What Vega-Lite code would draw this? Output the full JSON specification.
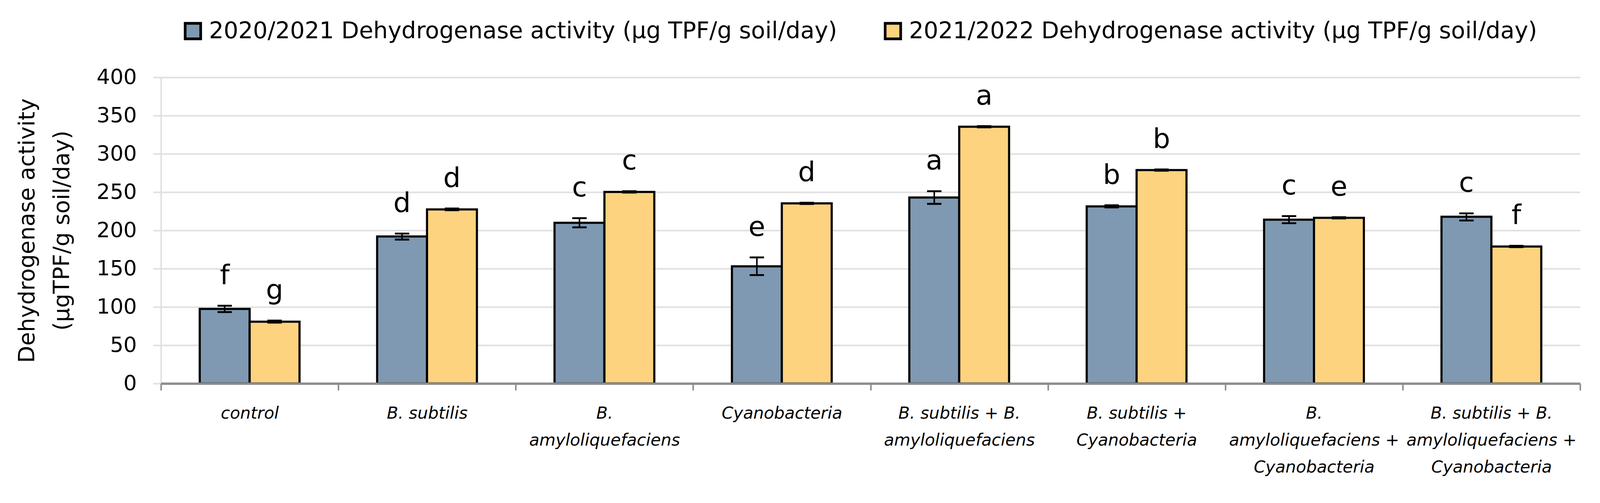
{
  "$schema": "https://vega.github.io/schema/vega-lite/v6.json",
  "width": 3633,
  "height": 784,
  "autosize": {"type": "none"},
  "padding": {"left": 412, "top": 198, "right": 188, "bottom": 306},
  "background": "white",
  "data": {
    "values": [
      {"treatment": "control", "series": "2020/2021 Dehydrogenase activity (µg TPF/g soil/day)", "value": 97.4, "lower": 93.3, "upper": 101.6, "letter": "f"},
      {"treatment": "control", "series": "2021/2022 Dehydrogenase activity (µg TPF/g soil/day)", "value": 80.8, "lower": 79.5, "upper": 82.2, "letter": "g"},
      {"treatment": "B. subtilis", "series": "2020/2021 Dehydrogenase activity (µg TPF/g soil/day)", "value": 192.1, "lower": 188.0, "upper": 195.9, "letter": "d"},
      {"treatment": "B. subtilis", "series": "2021/2022 Dehydrogenase activity (µg TPF/g soil/day)", "value": 227.4, "lower": 226.3, "upper": 228.6, "letter": "d"},
      {"treatment": "B. amyloliquefaciens", "series": "2020/2021 Dehydrogenase activity (µg TPF/g soil/day)", "value": 210.0, "lower": 204.0, "upper": 216.0, "letter": "c"},
      {"treatment": "B. amyloliquefaciens", "series": "2021/2022 Dehydrogenase activity (µg TPF/g soil/day)", "value": 250.3, "lower": 249.5, "upper": 251.2, "letter": "c"},
      {"treatment": "Cyanobacteria", "series": "2020/2021 Dehydrogenase activity (µg TPF/g soil/day)", "value": 153.0, "lower": 141.6, "upper": 164.7, "letter": "e"},
      {"treatment": "Cyanobacteria", "series": "2021/2022 Dehydrogenase activity (µg TPF/g soil/day)", "value": 235.3, "lower": 234.5, "upper": 236.2, "letter": "d"},
      {"treatment": "B. subtilis + B. amyloliquefaciens", "series": "2020/2021 Dehydrogenase activity (µg TPF/g soil/day)", "value": 243.0, "lower": 234.7, "upper": 251.2, "letter": "a"},
      {"treatment": "B. subtilis + B. amyloliquefaciens", "series": "2021/2022 Dehydrogenase activity (µg TPF/g soil/day)", "value": 335.4, "lower": 334.6, "upper": 336.3, "letter": "a"},
      {"treatment": "B. subtilis + Cyanobacteria", "series": "2020/2021 Dehydrogenase activity (µg TPF/g soil/day)", "value": 231.4, "lower": 230.0, "upper": 232.8, "letter": "b"},
      {"treatment": "B. subtilis + Cyanobacteria", "series": "2021/2022 Dehydrogenase activity (µg TPF/g soil/day)", "value": 278.8, "lower": 278.0, "upper": 279.7, "letter": "b"},
      {"treatment": "B. amyloliquefaciens + Cyanobacteria", "series": "2020/2021 Dehydrogenase activity (µg TPF/g soil/day)", "value": 214.0, "lower": 209.4, "upper": 218.7, "letter": "c"},
      {"treatment": "B. amyloliquefaciens + Cyanobacteria", "series": "2021/2022 Dehydrogenase activity (µg TPF/g soil/day)", "value": 216.4, "lower": 215.6, "upper": 217.3, "letter": "e"},
      {"treatment": "B. subtilis + B. amyloliquefaciens + Cyanobacteria", "series": "2020/2021 Dehydrogenase activity (µg TPF/g soil/day)", "value": 217.9, "lower": 212.9, "upper": 222.3, "letter": "c"},
      {"treatment": "B. subtilis + B. amyloliquefaciens + Cyanobacteria", "series": "2021/2022 Dehydrogenase activity (µg TPF/g soil/day)", "value": 179.0, "lower": 178.2, "upper": 179.9, "letter": "f"}
    ]
  },
  "encoding": {
    "x": {
      "field": "treatment",
      "type": "nominal",
      "sort": null,
      "scale": {"paddingInner": 0, "paddingOuter": 0},
      "axis": {
        "title": null,
        "zindex": 1,
        "labelAngle": 0,
        "labelFont": "DejaVu Sans",
        "labelFontStyle": "italic",
        "labelFontSize": 42.6,
        "labelLineHeight": 69,
        "labelColor": "#000000",
        "labelPadding": 38.5,
        "labelLimit": 2000,
        "labelOverlap": false,
        "labelExpr": "datum.label == 'B. amyloliquefaciens' ? ['B.', 'amyloliquefaciens'] : datum.label == 'B. subtilis + B. amyloliquefaciens' ? ['B. subtilis + B.', 'amyloliquefaciens'] : datum.label == 'B. subtilis + Cyanobacteria' ? ['B. subtilis +', 'Cyanobacteria'] : datum.label == 'B. amyloliquefaciens + Cyanobacteria' ? ['B.', 'amyloliquefaciens +', 'Cyanobacteria'] : datum.label == 'B. subtilis + B. amyloliquefaciens + Cyanobacteria' ? ['B. subtilis  + B.', 'amyloliquefaciens +', 'Cyanobacteria'] : datum.label",
        "tickBand": "extent",
        "tickSize": 17.4,
        "tickWidth": 3.9,
        "tickColor": "#8C8C8C",
        "domainColor": "#8C8C8C",
        "domainWidth": 5.8,
        "grid": false
      }
    },
    "xOffset": {
      "field": "series",
      "type": "nominal",
      "scale": {"paddingInner": 0, "paddingOuter": 0.778}
    }
  },
  "layer": [
    {
      "mark": {"type": "bar", "stroke": "#000000", "strokeWidth": 5.5},
      "encoding": {
        "y": {
          "field": "value",
          "type": "quantitative",
          "scale": {"domain": [0, 400], "nice": false},
          "axis": {
            "title": ["Dehydrogenase activity", "(µgTPF/g soil/day)"],
            "titleFont": "DejaVu Sans",
            "titleFontSize": 57,
            "titleFontWeight": "normal",
            "titleLineHeight": 89,
            "titleColor": "#000000",
            "titlePadding": 58,
            "values": [0, 50, 100, 150, 200, 250, 300, 350, 400],
            "labelFont": "DejaVu Sans",
            "labelFontSize": 54,
            "labelColor": "#000000",
            "labelPadding": 41.7,
            "tickSize": 20.4,
            "tickWidth": 3.9,
            "tickColor": "#E0E0E0",
            "domainColor": "#E0E0E0",
            "domainWidth": 3.9,
            "grid": true,
            "gridColor": "#E0E0E0",
            "gridWidth": 3.9,
            "zindex": 0
          }
        },
        "color": {
          "field": "series",
          "type": "nominal",
          "scale": {
            "domain": ["2020/2021 Dehydrogenase activity (µg TPF/g soil/day)", "2021/2022 Dehydrogenase activity (µg TPF/g soil/day)"],
            "range": ["#7F99B3", "#FED37F"]
          },
          "legend": {
            "title": null,
            "orient": "none",
            "direction": "horizontal",
            "legendX": 52.4,
            "legendY": -147.9,
            "padding": 0,
            "labelFont": "DejaVu Sans",
            "labelFontSize": 59,
            "labelColor": "#000000",
            "labelLimit": 4000,
            "labelOffset": 11.5,
            "columnPadding": 109,
            "symbolType": "square",
            "symbolSize": 1580,
            "symbolStrokeWidth": 6.8,
            "symbolStrokeColor": "#000000",
            "symbolOpacity": 1
          }
        }
      }
    },
    {
      "mark": {"type": "rule", "color": "#000000", "strokeWidth": 3.9},
      "encoding": {
        "y": {"field": "lower", "type": "quantitative"},
        "y2": {"field": "upper"}
      }
    },
    {
      "mark": {"type": "tick", "orient": "horizontal", "size": 36.8, "thickness": 4.8, "color": "#000000", "opacity": 1},
      "encoding": {
        "y": {"field": "lower", "type": "quantitative"}
      }
    },
    {
      "mark": {"type": "tick", "orient": "horizontal", "size": 36.8, "thickness": 4.8, "color": "#000000", "opacity": 1},
      "encoding": {
        "y": {"field": "upper", "type": "quantitative"}
      }
    },
    {
      "mark": {"type": "text", "dy": -55.2, "fontSize": 70, "font": "DejaVu Sans", "baseline": "alphabetic", "align": "center", "color": "#000000"},
      "encoding": {
        "y": {"field": "upper", "type": "quantitative"},
        "text": {"field": "letter", "type": "nominal"}
      }
    }
  ],
  "config": {
    "view": {"stroke": null},
    "font": "DejaVu Sans"
  }
}
